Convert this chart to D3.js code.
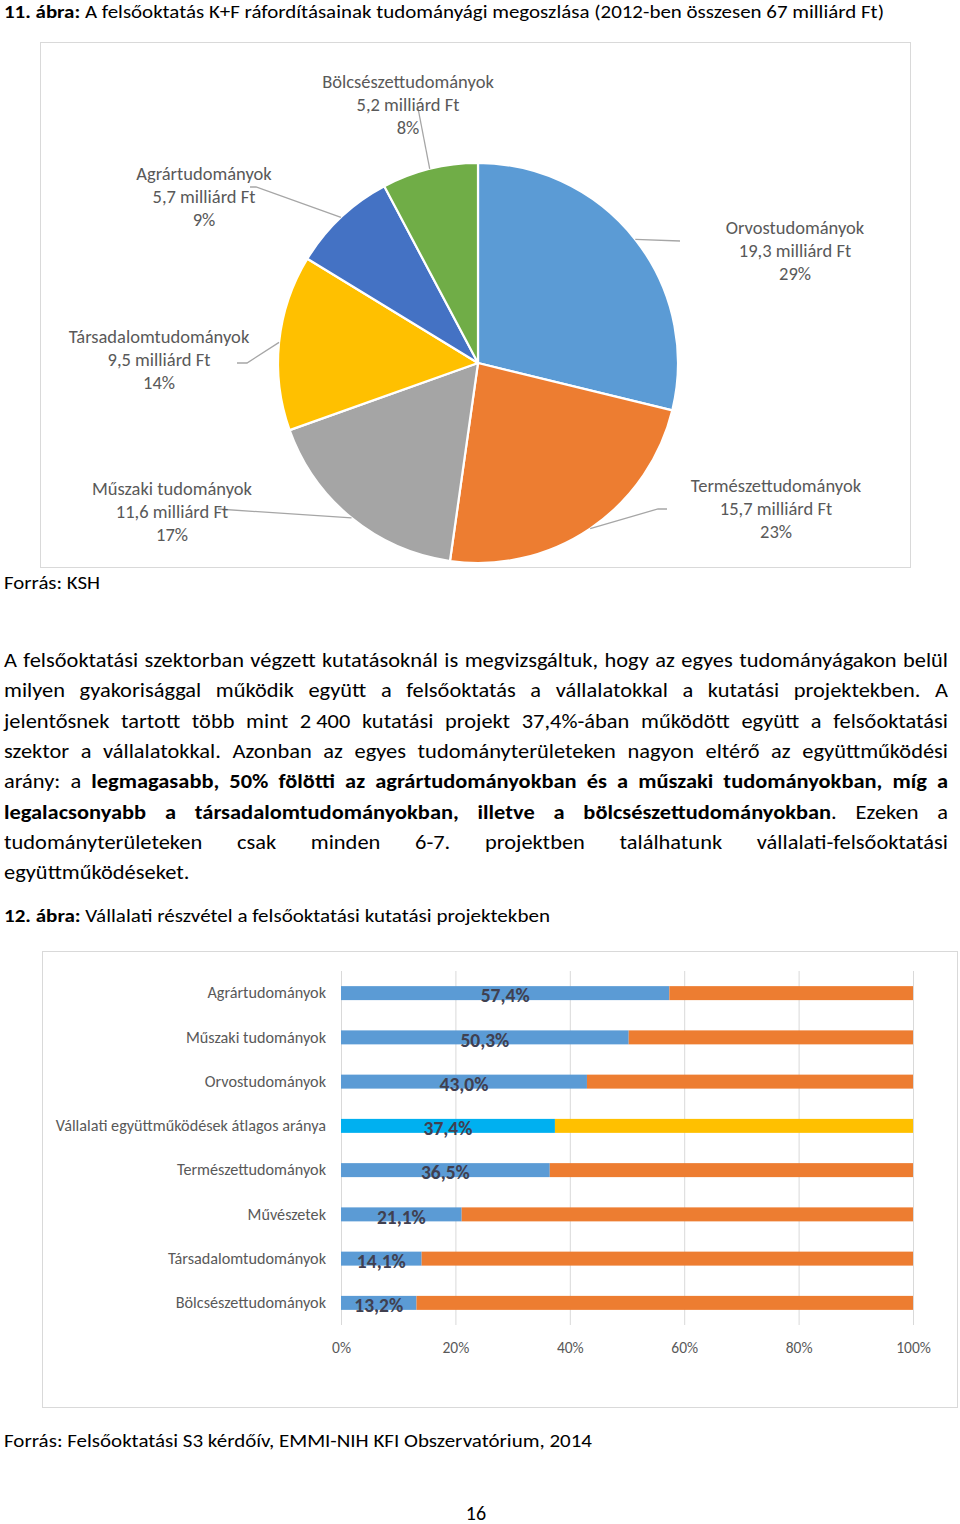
<!DOCTYPE html>
<html>
<head>
<meta charset="utf-8">
<script src="https://cdn.jsdelivr.net/npm/d3@7"></script>
<style>
html,body{margin:0;padding:0;background:#fff;}
svg{display:block;}
</style>
</head>
<body>
<svg id="page" width="960" height="1524"></svg>
<script>
// ---------- DATA ----------
const pieCategories = ["Orvostudományok","Természettudományok","Műszaki tudományok","Társadalomtudományok","Agrártudományok","Bölcsészettudományok"];
const pieValues = [19.3, 15.7, 11.6, 9.5, 5.7, 5.2];
const pieUnit = "milliárd Ft";

const barCategories = ["Agrártudományok","Műszaki tudományok","Orvostudományok","Vállalati együttműködések átlagos aránya","Természettudományok","Művészetek","Társadalomtudományok","Bölcsészettudományok"];
const barWith = [57.4, 50.3, 43.0, 37.4, 36.5, 21.1, 14.1, 13.2];
const barWithout = [42.6, 49.7, 57.0, 62.6, 63.5, 78.9, 85.9, 86.8];
const barTicks = [0, 20, 40, 60, 80, 100];

const title1Bold = "11. ábra:";
const title1 = " A felsőoktatás K+F ráfordításainak tudományági megoszlása (2012-ben összesen 67 milliárd Ft)";
const source1 = "Forrás: KSH";
const title2Bold = "12. ábra:";
const title2 = " Vállalati részvétel a felsőoktatási kutatási projektekben";
const source2 = "Forrás: Felsőoktatási S3 kérdőív, EMMI-NIH KFI Obszervatórium, 2014";
const pageNumber = "16";
const paragraphLines = [
  [["A felsőoktatási szektorban végzett kutatásoknál is megvizsgáltuk, hogy az egyes tudományágakon belül", false]],
  [["milyen gyakorisággal működik együtt a felsőoktatás a vállalatokkal a kutatási projektekben. A", false]],
  [["jelentősnek tartott több mint 2\u00a0400 kutatási projekt 37,4%-ában működött együtt a felsőoktatási", false]],
  [["szektor a vállalatokkal. Azonban az egyes tudományterületeken nagyon eltérő az együttműködési", false]],
  [["arány: a ", false], ["legmagasabb, 50% fölötti az agrártudományokban és a műszaki tudományokban, míg a", true]],
  [["legalacsonyabb a társadalomtudományokban, illetve a bölcsészettudományokban", true], [". Ezeken a", false]],
  [["tudományterületeken csak minden 6-7. projektben találhatunk vállalati-felsőoktatási", false]],
  [["együttműködéseket.", false]]
];

// ---------- STYLE / LAYOUT ----------
function hasFont(name){
  const c = document.createElement("canvas").getContext("2d");
  const s = "abcdefghijklmnopqrstuvwxyzáőűABCDEFGH0123456789";
  let diff = false;
  ["monospace","serif"].forEach(f=>{
    c.font = "40px " + f; const w1 = c.measureText(s).width;
    c.font = '40px "' + name + '", ' + f; const w2 = c.measureText(s).width;
    if (Math.abs(w1-w2) > 0.5) diff = true;
  });
  return diff;
}
const FONT_CHOICES = ["Carlito","Liberation Sans Narrow","DejaVu Sans Condensed","Lato","Liberation Sans"];
const FONT = (FONT_CHOICES.find(hasFont) || "sans-serif");
const FF = '"' + FONT + '", sans-serif';

const pieColors = ["#5b9bd5","#ed7d31","#a5a5a5","#ffc000","#4472c4","#70ad47"];
const barColors = {with:"#5b9bd5", without:"#ed7d31", avgWith:"#00b0f0", avgWithout:"#ffc000"};
const labelGray = "#595959";

const pieCenter = [478, 363], pieR = 200;
const pieLabelLayout = [
  {cx:795, cy:228, leader:[[680,241]]},
  {cx:776, cy:486, leader:[[667,509],[658,509]]},
  {cx:172, cy:489, leader:[[218,509]]},
  {cx:159, cy:337, leader:[[237,363],[247,363]]},
  {cx:204, cy:174, leader:[[250,187],[256,187]]},
  {cx:408, cy:82,  leader:[[417,103]]}
];

const svg = d3.select("#page");
svg.append("rect").attr("width",960).attr("height",1524).attr("fill","#fff");

const loc = d3.formatLocale({decimal:",", thousands:"\u00a0", grouping:[3], currency:["","Ft"]});
const f1 = loc.format(".1f");

// helper: text with bold prefix
function richText(x, y, parts, size, opts={}){
  const t = svg.append("text").attr("x",x).attr("y",y)
    .attr("font-family",FF).attr("font-size",size).attr("fill",opts.fill||"#000");
  parts.forEach(p=> t.append("tspan").attr("font-weight",p[1]?"bold":"normal").text(p[0]));
  if (opts.width){
    const w = t.node().getComputedTextLength();
    if (Math.abs(w-opts.width) < opts.width*0.15) t.attr("textLength",opts.width).attr("lengthAdjust","spacingAndGlyphs");
  }
  return t;
}

// ---------- TITLE 1 ----------
richText(4, 17.5, [[title1Bold,true],[title1,false]], 18, {width:880});

// ---------- PIE BOX ----------
svg.append("rect").attr("x",40.5).attr("y",42.5).attr("width",870).attr("height",525)
  .attr("fill","#fff").attr("stroke","#d9d9d9").attr("stroke-width",1);

const pie = d3.pie().sort(null).value(d=>d)(pieValues);
const arc = d3.arc().innerRadius(0).outerRadius(pieR);
const edgeArc = d3.arc().innerRadius(pieR).outerRadius(pieR);
const pg = svg.append("g").attr("transform",`translate(${pieCenter})`);
pg.selectAll("path.slice").data(pie).join("path").attr("class","slice")
  .attr("d",arc).attr("fill",(d,i)=>pieColors[i]).attr("stroke","#fff").attr("stroke-width",2.2)
  .attr("stroke-linejoin","round");

const total = d3.sum(pieValues);
pie.forEach((d,i)=>{
  const L = pieLabelLayout[i];
  const c = edgeArc.centroid(d);
  const pts = L.leader.concat([[c[0]+pieCenter[0], c[1]+pieCenter[1]]]);
  svg.append("path").attr("d", d3.line()(pts)).attr("fill","none")
    .attr("stroke","#a6a6a6").attr("stroke-width",1.3);
  const lines = [pieCategories[i], f1(pieValues[i]) + " " + pieUnit, Math.round(pieValues[i]/total*100) + "%"];
  lines.forEach((s,k)=>{
    svg.append("text").attr("x",L.cx).attr("y",L.cy + k*23).attr("dy","0.35em")
      .attr("text-anchor","middle").attr("font-family",FF).attr("font-size",18.5)
      .attr("fill",labelGray).text(s);
  });
});

// ---------- SOURCE 1 ----------
richText(4, 589, [[source1,false]], 18.5, {width:96});

// ---------- PARAGRAPH ----------
(function(){
  const x0 = 4, x1 = 948, y0 = 667, lh = 30.3, sz = 19.5, minGap = 4.8;
  const meas = document.createElement("canvas").getContext("2d");
  function toWords(line){
    const words = []; let cur = [];
    line.forEach(([txt,b])=>{
      const pieces = txt.split(" ");
      pieces.forEach((p,j)=>{
        if (j>0){ if (cur.length) words.push(cur); cur = []; }
        if (p.length) cur.push([p,b]);
      });
    });
    if (cur.length) words.push(cur);
    return words;
  }
  function runWidth(r){ meas.font = (r[1]?"bold ":"") + sz + "px " + FF; return meas.measureText(r[0]).width; }
  // horizontal scale so the tightest line fills the measure with a small word gap
  let k = Infinity;
  paragraphLines.slice(0,-1).forEach(line=>{
    const ws = toWords(line);
    const W = d3.sum(ws, w=>d3.sum(w, runWidth));
    k = Math.min(k, (x1-x0-minGap*(ws.length-1))/W);
  });
  k = Math.min(k, 1.15);
  meas.font = sz+"px "+FF;
  const spaceW = meas.measureText(" ").width*k;
  paragraphLines.forEach((line, li)=>{
    const ws = toWords(line);
    const widths = ws.map(w=>d3.sum(w, runWidth)*k);
    const justify = li < paragraphLines.length-1;
    const gap = justify ? (x1-x0-d3.sum(widths))/(ws.length-1) : spaceW;
    let x = x0;
    ws.forEach((w,j)=>{
      const t = svg.append("text").attr("x",x).attr("y",y0+li*lh)
        .attr("font-family",FF).attr("font-size",sz).attr("fill","#000");
      w.forEach(r=> t.append("tspan").attr("font-weight",r[1]?"bold":"normal").text(r[0]));
      t.attr("textLength",widths[j]).attr("lengthAdjust","spacingAndGlyphs");
      x += widths[j] + gap;
    });
  });
})();

// ---------- TITLE 2 ----------
richText(4, 922, [[title2Bold,true],[title2,false]], 18.5, {width:546});

// ---------- BAR BOX ----------
svg.append("rect").attr("x",42.5).attr("y",951.5).attr("width",915).attr("height",456)
  .attr("fill","#fff").attr("stroke","#d9d9d9").attr("stroke-width",1);

const x = d3.scaleLinear().domain([0,100]).range([341,913]);
const y = d3.scaleBand().domain(barCategories).range([971,1325]).paddingInner(0.684).paddingOuter(0.342);

const bg = svg.append("g");
bg.selectAll("line.grid").data(barTicks).join("line").attr("class","grid")
  .attr("x1",d=>x(d)+0.5).attr("x2",d=>x(d)+0.5).attr("y1",971).attr("y2",1325)
  .attr("stroke","#d9d9d9").attr("stroke-width",1);

const table = barCategories.map((c,i)=>({cat:c, with:barWith[i], without:barWithout[i], avg:i===3}));
const stack = d3.stack().keys(["with","without"])(table);
stack.forEach(layer=>{
  bg.selectAll(null).data(layer).join("rect")
    .attr("x",d=>x(d[0])).attr("width",d=>x(d[1])-x(d[0]))
    .attr("y",d=>y(d.data.cat)).attr("height",y.bandwidth())
    .attr("fill",d=> d.data.avg ? (layer.key==="with"?barColors.avgWith:barColors.avgWithout)
                                 : (layer.key==="with"?barColors.with:barColors.without));
});
// data labels
bg.selectAll("text.val").data(stack[0]).join("text").attr("class","val")
  .attr("x",d=>(x(d[0])+x(d[1]))/2).attr("y",d=>y(d.data.cat)+y.bandwidth()/2+2.5)
  .attr("dy","0.35em").attr("text-anchor","middle")
  .attr("font-family",FF).attr("font-size",19.5).attr("font-weight","bold").attr("fill","#404050")
  .text(d=>f1(d.data.with)+"%");

// axes
const yAxis = svg.append("g").attr("transform","translate(341,0)")
  .call(d3.axisLeft(y).tickSize(0).tickPadding(15));
yAxis.select(".domain").remove();
yAxis.selectAll("text").attr("font-family",FF).attr("font-size",16.2).attr("fill",labelGray);

const xAxis = svg.append("g").attr("transform","translate(0,1340)")
  .call(d3.axisBottom(x).tickValues(barTicks).tickFormat(d=>d+"%").tickSize(0).tickPadding(0));
xAxis.select(".domain").remove();
xAxis.selectAll("text").attr("font-family",FF).attr("font-size",15.5).attr("fill",labelGray)
  .attr("dy","0.35em").attr("y",8);

// ---------- SOURCE 2 & PAGE NUMBER ----------
richText(4, 1447, [[source2,false]], 18.5, {width:588});
svg.append("text").attr("x",476).attr("y",1520).attr("text-anchor","middle")
  .attr("font-family",FF).attr("font-size",20).attr("fill","#000").text(pageNumber);
</script>
</body>
</html>
